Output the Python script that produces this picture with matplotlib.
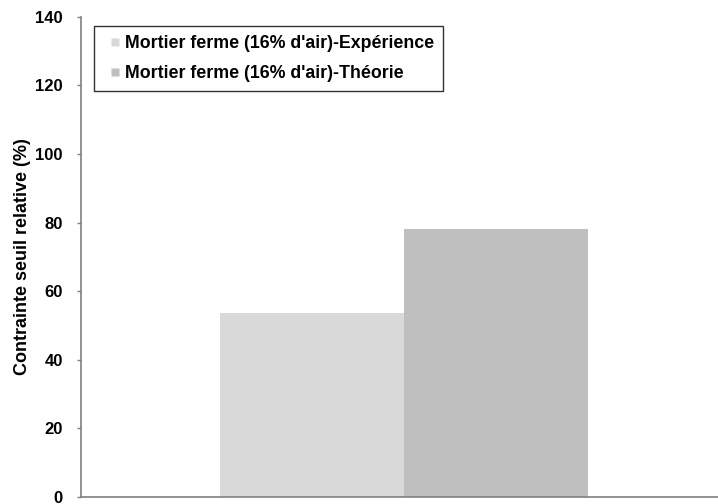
import matplotlib
matplotlib.use("Agg")
import matplotlib.pyplot as plt
from matplotlib.lines import Line2D

plt.rcParams['font.family'] = ['Liberation Sans', 'DejaVu Sans']
plt.rcParams['font.weight'] = 'bold'

# Data
series = ["Mortier ferme (16% d'air)-Expérience", "Mortier ferme (16% d'air)-Théorie"]
values = [53.6, 78.1]
colors = ['#D9D9D9', '#BFBFBF']
yticks = [0, 20, 40, 60, 80, 100, 120, 140]

fig = plt.figure(figsize=(7.18, 5.04), dpi=100)
ax = fig.add_axes([0.1128, 0.0139, 0.8872, 0.953])

width = 0.289
offsets = [-width / 2, width / 2]
for off, v, c, lab in zip(offsets, values, colors, series):
    ax.bar(off + 0.007, v, width=width, color=c, label=lab, zorder=2)

ax.set_xlim(-0.5, 0.5)
ax.set_ylim(0, 140)
ax.set_yticks(yticks)
ax.set_yticklabels([str(t) for t in yticks], fontsize=12, fontweight='bold')
ax.set_xticks([])
ax.tick_params(axis='y', length=3, width=1, color='#808080', pad=10)

for s in ['top', 'right']:
    ax.spines[s].set_visible(False)
for s in ['left', 'bottom']:
    ax.spines[s].set_color('#808080')
    ax.spines[s].set_linewidth(1.2)

ax.set_ylabel("Contrainte seuil relative (%)", fontsize=13, fontweight='bold', labelpad=3)

# small square swatches in the legend
handles = [Line2D([], [], linestyle='none', marker='s', markersize=6.3,
                  markerfacecolor=c, markeredgecolor='none') for c in colors]
leg = ax.legend(handles, series, loc='upper left', bbox_to_anchor=(0.02, 0.98),
                prop={'weight': 'bold', 'size': 12.8}, fancybox=False, frameon=True,
                handlelength=1.4, handletextpad=-0.15,
                labelspacing=0.72, borderpad=0.5, borderaxespad=0)
leg.get_frame().set_edgecolor('black')
leg.get_frame().set_linewidth(1.0)

fig.savefig("out.png", dpi=100)
